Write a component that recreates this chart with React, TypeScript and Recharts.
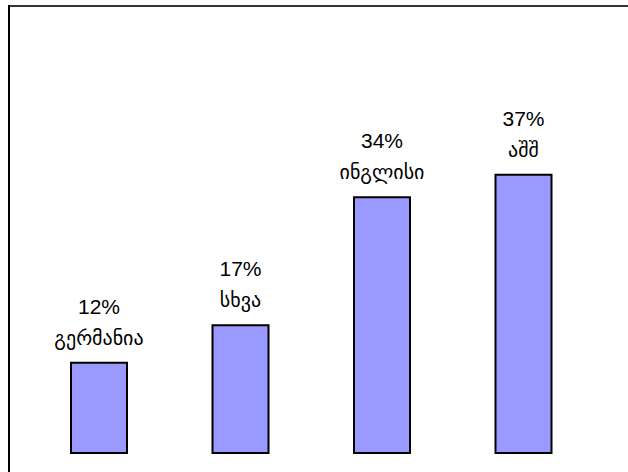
import React from "react";
import { BarChart, Bar, XAxis, YAxis, LabelList } from "recharts";

const categories = ["გერმანია", "სხვა", "ინგლისი", "აშშ"];
const shares = [12, 17, 34, 37];

const data = categories.map((name, i) => ({ name, value: shares[i] }));

function TwoLineLabel(props: any) {
  const { x, y, width, index } = props;
  const cx = Number(x) + Number(width) / 2;
  const top = Number(y);
  return (
    <g>
      <text
        x={cx}
        y={top - 49}
        textAnchor="middle"
        fontFamily="'Liberation Sans', Arial, sans-serif"
        fontSize={21}
        fill="#000"
      >
        {shares[index]}%
      </text>
      <text
        x={cx}
        y={top - 18}
        textAnchor="middle"
        fontFamily="'DejaVu Sans ExtraLight', 'DejaVu Sans', sans-serif"
        fontSize={20}
        fill="#000"
      >
        {categories[index]}
      </text>
    </g>
  );
}

export default function App() {
  return (
    <div style={{ position: "absolute", left: 0, top: 0, width: 628, height: 472, background: "#fff" }}>
      <div style={{ position: "absolute", left: 8, top: 5, width: 620, height: 2, background: "#333" }} />
      <div style={{ position: "absolute", left: 8, top: 5, width: 2, height: 467, background: "#000" }} />
      <div style={{ position: "absolute", left: 0, top: 0 }}>
        <BarChart
          width={628}
          height={472}
          data={data}
          margin={{ top: 77, right: 34, bottom: 19, left: 28 }}
          barSize={56}
        >
          <XAxis dataKey="name" hide />
          <YAxis domain={[0, 50]} hide />
          <Bar dataKey="value" fill="#9999ff" stroke="#000" strokeWidth={2} isAnimationActive={false}>
            <LabelList dataKey="value" content={<TwoLineLabel />} />
          </Bar>
        </BarChart>
      </div>
    </div>
  );
}
